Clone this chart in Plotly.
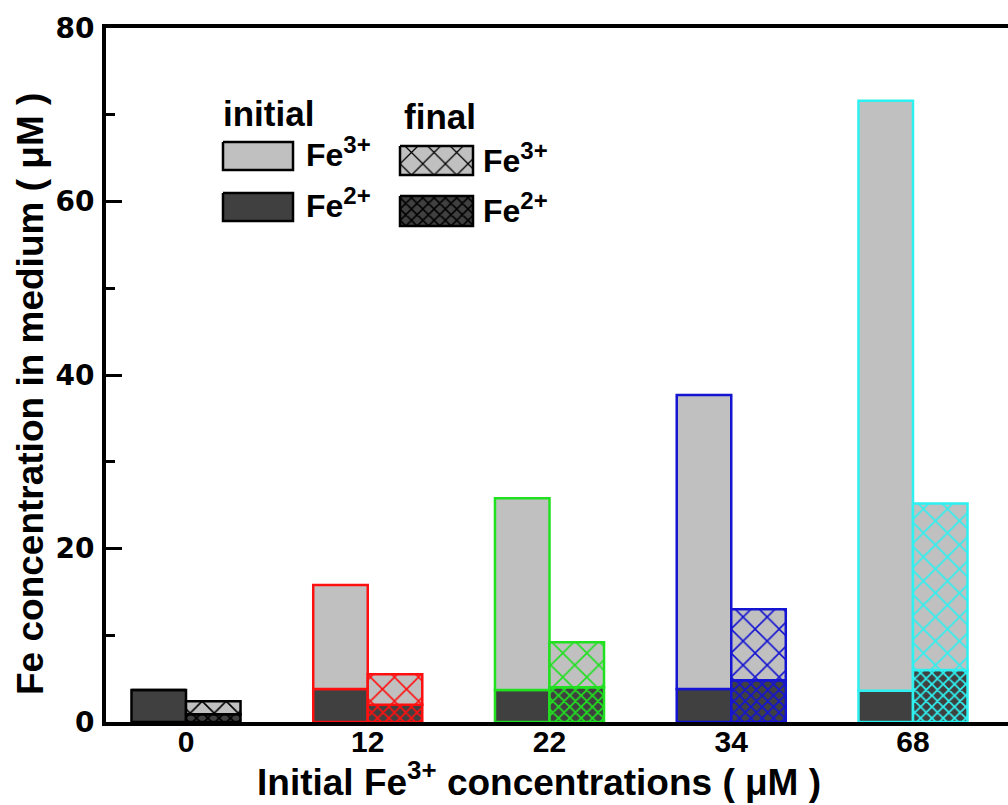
import plotly.graph_objects as go

# Iron concentrations in the medium (µM) for each initial Fe3+ dose
categories = ["0", "12", "22", "34", "68"]
initial_fe2 = [3.7, 3.8, 3.7, 3.8, 3.6]
initial_fe3 = [0.0, 12.0, 22.1, 33.9, 68.0]
final_fe2 = [0.9, 2.0, 4.0, 4.8, 6.0]
final_fe3 = [1.5, 3.5, 5.2, 8.2, 19.2]
group_colors = ["#000000", "#ff1010", "#20e020", "#1414d2", "#2ef0f0"]

LIGHT = "#c0c0c0"
DARK = "#404040"
W, H = 1008, 805
ML, MR, MT, MB = 106, 0, 28, 83
BAR_W = 0.30
FONT = "Liberation Sans"

x = list(range(len(categories)))

hatch_light = dict(shape="x", size=17, solidity=0.18, fgcolor=group_colors,
                   bgcolor=LIGHT, fillmode="replace")
hatch_dark = dict(shape="x", size=8, solidity=0.4, fgcolor=group_colors,
                  bgcolor=DARK, fillmode="replace")

fig = go.Figure()


def add_bar(values, base, offset, color, pattern=None):
    marker = dict(color=color, line=dict(color=group_colors, width=2.5))
    if pattern is not None:
        marker["pattern"] = pattern
    fig.add_trace(go.Bar(x=x, y=values, base=base, width=BAR_W, offset=offset,
                         marker=marker, showlegend=False, hoverinfo="skip"))


# initial (left bar of each pair), final (right bar, hatched)
add_bar(initial_fe2, [0] * len(x), -BAR_W, DARK)
add_bar(initial_fe3, initial_fe2, -BAR_W, LIGHT)
add_bar(final_fe2, [0] * len(x), 0, DARK, hatch_dark)
add_bar(final_fe3, final_fe2, 0, LIGHT, hatch_light)

# Legend drawn on an overlay axis measured in page pixels
px_left, px_right = ML, W - MR
px_top, px_bottom = MT, H - MB


def swatch(x0, x1, y0, y1, fill, pattern=None):
    tr = go.Scatter(x=[x0, x1, x1, x0, x0], y=[y0, y0, y1, y1, y0],
                    mode="lines", fill="toself", fillcolor=fill,
                    line=dict(color="black", width=2.5),
                    xaxis="x2", yaxis="y2", showlegend=False, hoverinfo="skip")
    if pattern is not None:
        tr.fillpattern = pattern
    fig.add_trace(tr)


leg_pat_light = dict(shape="x", size=16, solidity=0.15, fgcolor="black",
                     bgcolor=LIGHT, fillmode="replace")
leg_pat_dark = dict(shape="x", size=8, solidity=0.35, fgcolor="black",
                    bgcolor=DARK, fillmode="replace")

swatch(223, 293, 142, 170, LIGHT)
swatch(223, 293, 193, 221, DARK)
swatch(400, 473, 146, 175, LIGHT, leg_pat_light)
swatch(400, 473, 196, 226, DARK, leg_pat_dark)

annotations = []


def label(text, xp, yp, size, xanchor="left"):
    annotations.append(dict(text=text, x=xp, y=yp, xref="x2", yref="y2",
                            xanchor=xanchor, yanchor="middle", showarrow=False,
                            font=dict(family=FONT, size=size, color="black",
                                      weight="bold")))


def ion(charge):
    return ("Fe<sup><span style='font-size:24px'>%s</span></sup>" % charge)


label("initial", 221, 113, 35)
label("final", 402, 116, 35)
label(ion("3+"), 304, 152, 32)
label(ion("2+"), 304, 203, 32)
label(ion("3+"), 481, 158, 32)
label(ion("2+"), 481, 208, 32)


def to_paper(px, py):
    return ((px - px_left) / (px_right - px_left),
            (px_bottom - py) / (px_bottom - px_top))


# Axis titles
tx, ty = to_paper(539, 780)
annotations.append(dict(text="Initial Fe<sup>3+</sup> concentrations ( μM )",
                        x=tx, y=ty, xref="paper", yref="paper",
                        xanchor="center", yanchor="middle", showarrow=False,
                        font=dict(family=FONT, size=37, color="black",
                                  weight="bold")))
tx, ty = to_paper(31, 394)
annotations.append(dict(text="Fe concentration in medium ( μM )",
                        x=tx, y=ty, xref="paper", yref="paper", textangle=-90,
                        xanchor="center", yanchor="middle", showarrow=False,
                        font=dict(family=FONT, size=37, color="black",
                                  weight="bold")))

step = 181.75
x_lo = -(186 - px_left) / step
x_hi = (px_right - 186) / step

fig.update_layout(
    width=W, height=H,
    margin=dict(l=ML, r=MR, t=MT, b=MB, pad=0),
    paper_bgcolor="white", plot_bgcolor="white",
    barmode="overlay",
    annotations=annotations,
    xaxis=dict(range=[x_lo, x_hi], tickvals=x, ticktext=categories,
               ticks="", showline=True, linewidth=4, linecolor="black",
               mirror=True, showgrid=False, zeroline=False,
               ticklabelstandoff=-10,
               tickfont=dict(family=FONT, size=30, color="black",
                             weight="bold")),
    yaxis=dict(range=[0, 80], dtick=20, ticks="inside", ticklen=16,
               tickwidth=3, tickcolor="black",
               minor=dict(ticks="inside", ticklen=9, tickwidth=3,
                          dtick=10, tickcolor="black"),
               showline=True, linewidth=4, linecolor="black",
               mirror=False, showgrid=False, zeroline=False,
               ticklabelstandoff=2,
               tickfont=dict(family="DejaVu Sans", size=28, color="black",
                             weight="bold")),
    xaxis2=dict(range=[px_left, px_right], overlaying="x", visible=False,
                anchor="y2"),
    yaxis2=dict(range=[px_bottom, px_top], overlaying="y", visible=False,
                anchor="x2"),
)

fig.write_html("out.html")
